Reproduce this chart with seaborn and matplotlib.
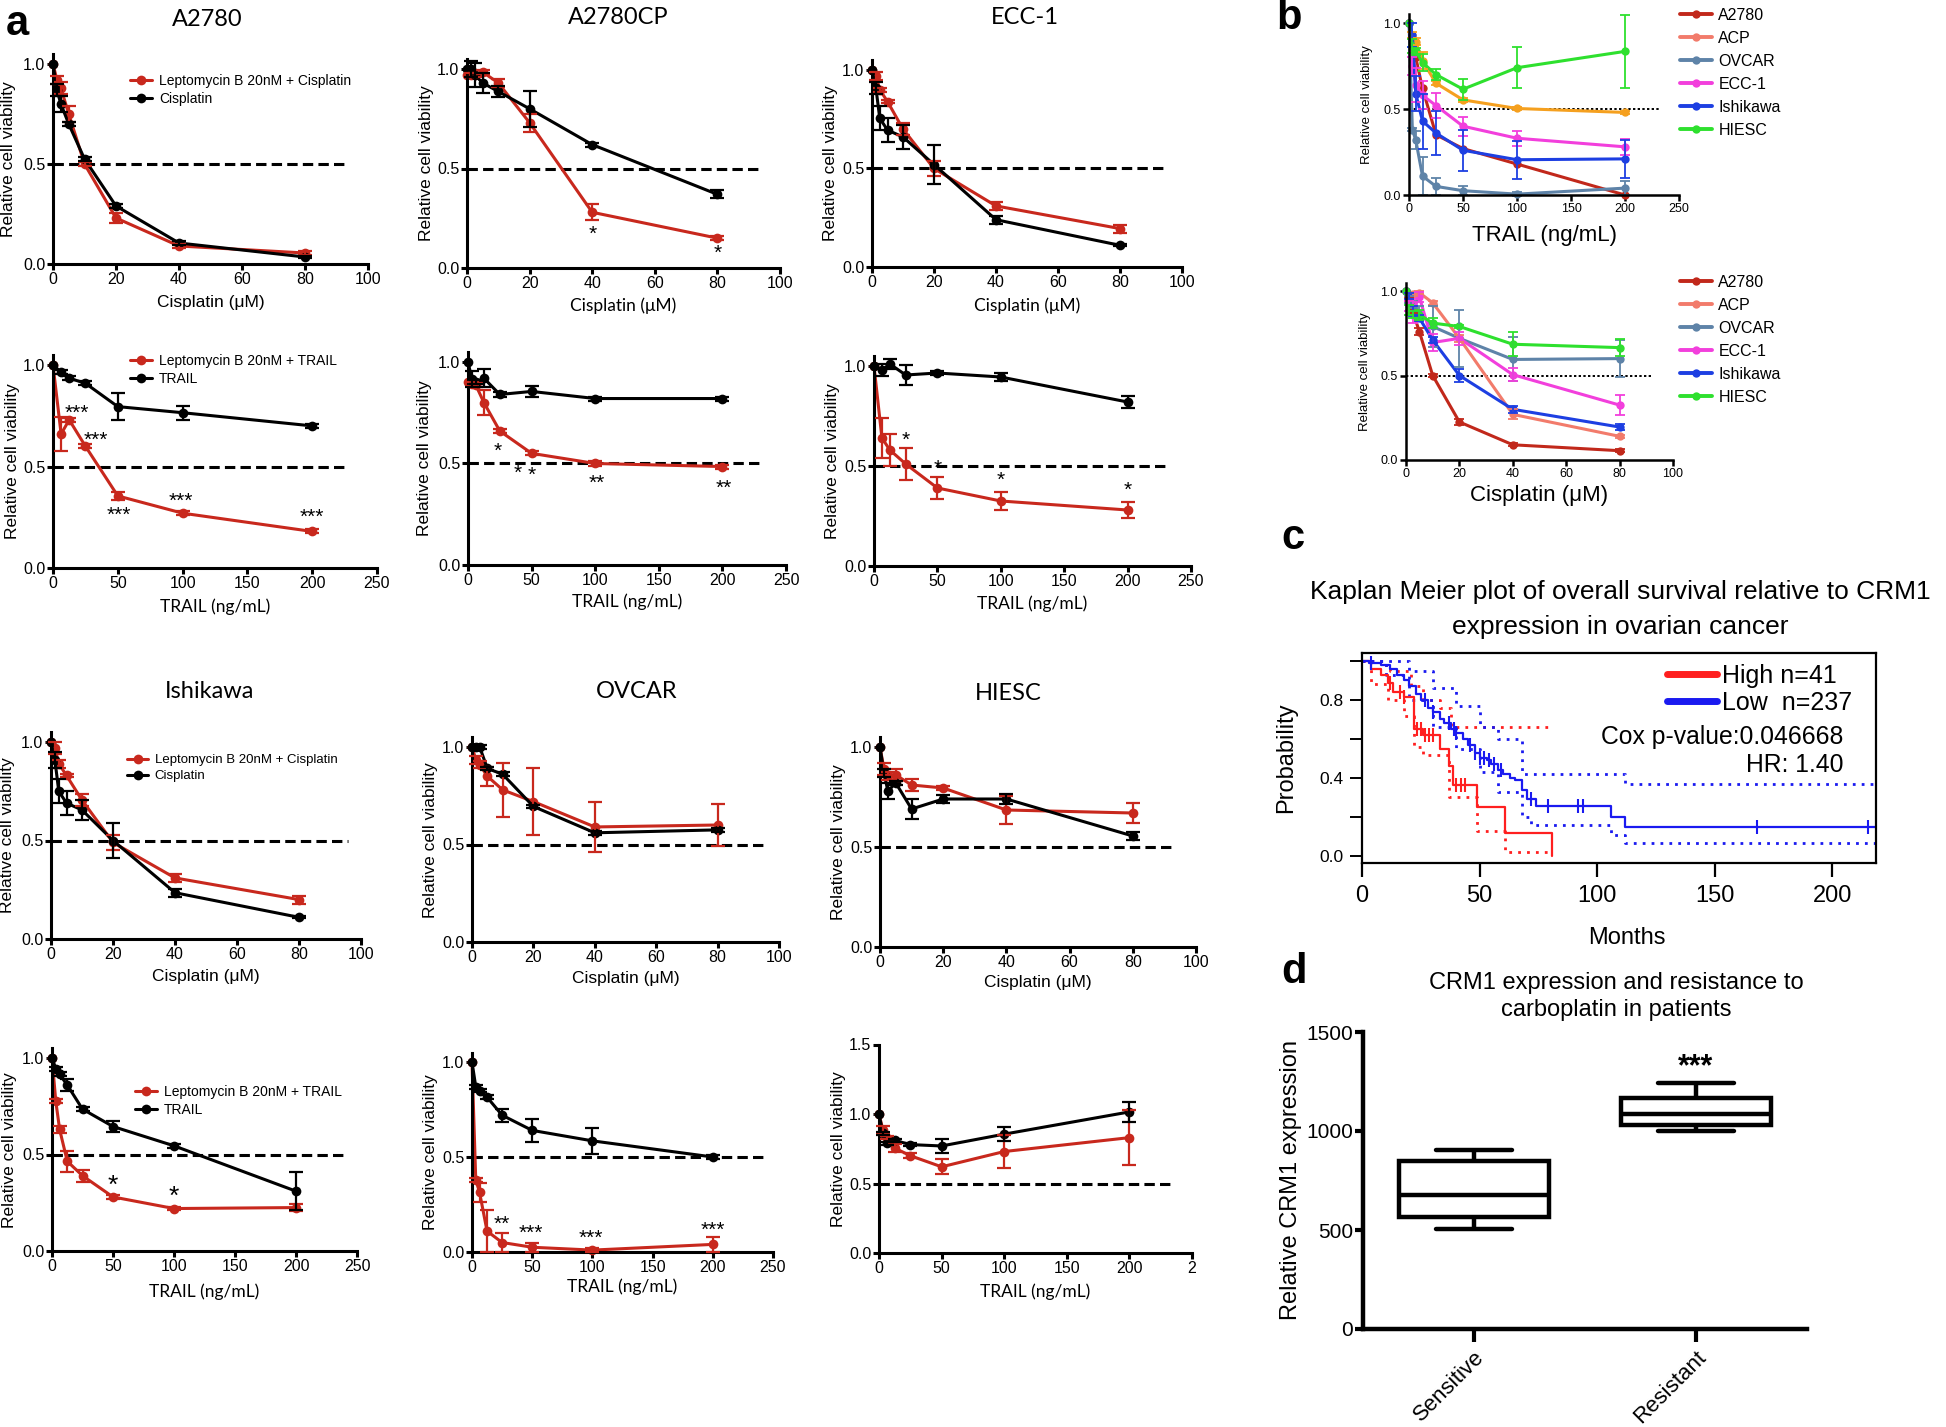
import numpy as np
import pandas as pd
import matplotlib
matplotlib.use("Agg")
import matplotlib.pyplot as plt
import seaborn as sns
from matplotlib.lines import Line2D
from matplotlib import font_manager

sns.set_style("ticks")
plt.rcParams["font.family"] = ["Liberation Sans", "DejaVu Sans"]
plt.rcParams.update({"text.color": "black", "axes.labelcolor": "black",
                     "xtick.color": "black", "ytick.color": "black",
                     "axes.edgecolor": "black"})

try:
    font_manager.findfont("Liberation Sans Narrow", fallback_to_default=False)
    NARROW = ["Liberation Sans Narrow", "Liberation Sans", "DejaVu Sans"]
    HAS_NARROW = True
except ValueError:
    NARROW = ["Liberation Sans", "DejaVu Sans"]
    HAS_NARROW = False
ARIAL = ["Liberation Sans", "DejaVu Sans"]
CALIBRI = ["Lato", "Liberation Sans", "DejaVu Sans"]

# ---------------- data: panel a ----------------
cis_dose = [0, 1.25, 2.5, 5, 10, 20, 40, 80]
trail_dose7 = [0, 6.25, 12.5, 25, 50, 100, 200]
trail_dose8 = [0, 3.125, 6.25, 12.5, 25, 50, 100, 200]

a2780_cis_lmb = [1.0, 0.92, 0.88, 0.75, 0.50, 0.23, 0.09, 0.055]
a2780_cis_lmb_sd = [0, 0.02, 0.03, 0.04, 0.01, 0.025, 0.01, 0.01]
a2780_cis_ctl = [1.0, 0.87, 0.80, 0.70, 0.525, 0.29, 0.105, 0.035]
a2780_cis_ctl_sd = [0, 0.03, 0.04, 0.01, 0.01, 0.01, 0.01, 0.005]

a2780_trail_lmb = [1.0, 0.66, 0.73, 0.60, 0.355, 0.27, 0.18]
a2780_trail_lmb_sd = [0, 0.085, 0.01, 0.01, 0.02, 0.01, 0.01]
a2780_trail_ctl = [1.0, 0.965, 0.935, 0.91, 0.795, 0.765, 0.70]
a2780_trail_ctl_sd = [0, 0.01, 0.01, 0.01, 0.065, 0.035, 0.01]
a2780_trail_stars = [(18, 0.76, "***"), (33, 0.63, "***"), (51, 0.26, "***"),
                     (99, 0.33, "***"), (200, 0.25, "***")]

a2780cp_cis_lmb = [0.97, 0.97, 0.97, 0.985, 0.93, 0.73, 0.28, 0.15]
a2780cp_cis_lmb_sd = [0, 0.01, 0.01, 0.01, 0.02, 0.045, 0.04, 0.01]
a2780cp_cis_ctl = [1.0, 1.0, 0.97, 0.93, 0.887, 0.80, 0.62, 0.37]
a2780cp_cis_ctl_sd = [0, 0.04, 0.06, 0.05, 0.03, 0.09, 0.01, 0.02]
a2780cp_cis_stars = [(40, 0.17, "*"), (80, 0.075, "*")]

a2780cp_trail_lmb = [0.90, 0.89, 0.885, 0.80, 0.66, 0.55, 0.50, 0.485]
a2780cp_trail_lmb_sd = [0, 0.01, 0.01, 0.06, 0.01, 0.01, 0.01, 0.01]
a2780cp_trail_ctl = [1.0, 0.915, 0.90, 0.92, 0.84, 0.855, 0.82, 0.82]
a2780cp_trail_ctl_sd = [0, 0.04, 0.01, 0.045, 0.01, 0.025, 0.01, 0.01]
a2780cp_trail_stars = [(23, 0.56, "*"), (39, 0.45, "*"), (50, 0.44, "*"),
                       (101, 0.40, "**"), (201, 0.38, "**")]

ecc1_cis_lmb = [1.0, 0.97, 0.90, 0.84, 0.70, 0.50, 0.31, 0.195]
ecc1_cis_lmb_sd = [0, 0.02, 0.01, 0.01, 0.03, 0.04, 0.02, 0.02]
ecc1_cis_ctl = [1.0, 0.91, 0.755, 0.695, 0.66, 0.52, 0.24, 0.11]
ecc1_cis_ctl_sd = [0, 0.03, 0.06, 0.06, 0.06, 0.10, 0.02, 0.005]

ecc1_trail_lmb = [1.0, 0.64, 0.58, 0.51, 0.39, 0.325, 0.28]
ecc1_trail_lmb_sd = [0, 0.10, 0.08, 0.08, 0.055, 0.045, 0.04]
ecc1_trail_ctl = [1.0, 0.98, 1.01, 0.955, 0.965, 0.945, 0.82]
ecc1_trail_ctl_sd = [0, 0.03, 0.025, 0.05, 0.01, 0.02, 0.03]
ecc1_trail_stars = [(25, 0.63, "*"), (50, 0.49, "*"), (100, 0.43, "*"), (200, 0.38, "*")]

ishi_cis_lmb = [1.0, 0.97, 0.89, 0.83, 0.705, 0.49, 0.31, 0.20]
ishi_cis_lmb_sd = [0, 0.03, 0.02, 0.01, 0.03, 0.04, 0.02, 0.02]
ishi_cis_ctl = [1.0, 0.91, 0.75, 0.69, 0.655, 0.50, 0.235, 0.11]
ishi_cis_ctl_sd = [0, 0.04, 0.06, 0.06, 0.05, 0.09, 0.02, 0.005]

ovcar_cis_lmb = [1.0, 0.935, 0.91, 0.85, 0.78, 0.72, 0.59, 0.60]
ovcar_cis_lmb_sd = [0, 0.02, 0.02, 0.05, 0.14, 0.17, 0.13, 0.11]
ovcar_cis_ctl = [1.0, 1.0, 1.0, 0.89, 0.86, 0.695, 0.56, 0.575]
ovcar_cis_ctl_sd = [0, 0.01, 0.01, 0.01, 0.01, 0.01, 0.01, 0.01]

hiesc_cis_lmb = [1.0, 0.89, 0.855, 0.86, 0.81, 0.795, 0.685, 0.67]
hiesc_cis_lmb_sd = [0, 0.03, 0.02, 0.03, 0.03, 0.01, 0.07, 0.05]
hiesc_cis_ctl = [1.0, 0.87, 0.78, 0.82, 0.69, 0.74, 0.74, 0.555]
hiesc_cis_ctl_sd = [0, 0.02, 0.04, 0.01, 0.05, 0.02, 0.025, 0.02]

ishi_trail_lmb = [1.0, 0.775, 0.63, 0.465, 0.39, 0.28, 0.22, 0.225]
ishi_trail_lmb_sd = [0, 0.01, 0.02, 0.055, 0.03, 0.01, 0.01, 0.02]
ishi_trail_ctl = [1.0, 0.945, 0.915, 0.86, 0.735, 0.645, 0.545, 0.31]
ishi_trail_ctl_sd = [0, 0.01, 0.01, 0.03, 0.01, 0.03, 0.01, 0.10]
ishi_trail_stars = [(50, 0.34, "*"), (100, 0.28, "*")]

ovcar_trail_lmb = [1.0, 0.38, 0.315, 0.11, 0.05, 0.025, 0.01, 0.04]
ovcar_trail_lmb_sd = [0, 0.01, 0.05, 0.11, 0.05, 0.025, 0.01, 0.04]
ovcar_trail_ctl = [1.0, 0.87, 0.85, 0.815, 0.72, 0.64, 0.585, 0.50]
ovcar_trail_ctl_sd = [0, 0.01, 0.01, 0.01, 0.035, 0.06, 0.07, 0.01]
ovcar_trail_stars = [(25, 0.145, "**"), (49, 0.10, "***"), (99, 0.07, "***"), (200, 0.115, "***")]

hiesc_trail_lmb = [1.0, 0.885, 0.83, 0.755, 0.70, 0.62, 0.73, 0.83]
hiesc_trail_lmb_sd = [0, 0.03, 0.01, 0.03, 0.02, 0.055, 0.12, 0.20]
hiesc_trail_ctl = [1.0, 0.86, 0.79, 0.81, 0.78, 0.77, 0.855, 1.015]
hiesc_trail_ctl_sd = [0, 0.01, 0.01, 0.01, 0.01, 0.05, 0.05, 0.07]

# ---------------- data: panel b ----------------
b_lines = ["A2780", "ACP", "OVCAR", "ECC-1", "Ishikawa", "HIESC"]
b_trail_a2780 = [1.0, 0.90, 0.80, 0.62, 0.35, 0.27, 0.18, 0.0]
b_trail_acp = [1.0, 0.93, 0.89, 0.78, 0.65, 0.553, 0.503, 0.48]
b_trail_ovcar = [1.0, 0.38, 0.32, 0.11, 0.05, 0.025, 0.005, 0.04]
b_trail_ecc1 = [1.0, 0.75, 0.64, 0.58, 0.52, 0.40, 0.33, 0.28]
b_trail_ishi = [1.0, 0.93, 0.59, 0.43, 0.36, 0.26, 0.205, 0.21]
b_trail_hiesc = [1.0, 0.865, 0.835, 0.77, 0.70, 0.615, 0.74, 0.835]
b_trail_acp_sd = [0, 0.02, 0.02, 0.05, 0.01, 0.01, 0.01, 0.01]
b_trail_ovcar_sd = [0, 0.01, 0.05, 0.11, 0.05, 0.025, 0.01, 0.04]
b_trail_ecc1_sd = [0, 0.05, 0.10, 0.08, 0.075, 0.055, 0.045, 0.045]
b_trail_ishi_sd = [0, 0.07, 0.10, 0.16, 0.13, 0.12, 0.11, 0.11]
b_trail_hiesc_sd = [0, 0.04, 0.02, 0.05, 0.03, 0.06, 0.12, 0.21]

b_cis_a2780 = [1.0, 0.95, 0.88, 0.76, 0.50, 0.225, 0.09, 0.055]
b_cis_acp = [1.0, 0.98, 0.98, 0.99, 0.93, 0.72, 0.27, 0.14]
b_cis_ovcar = [1.0, 0.95, 0.92, 0.87, 0.79, 0.72, 0.595, 0.60]
b_cis_ecc1 = [1.0, 0.91, 0.88, 0.965, 0.695, 0.72, 0.505, 0.325]
b_cis_ishi = [1.0, 0.97, 0.88, 0.84, 0.71, 0.50, 0.30, 0.195]
b_cis_hiesc = [1.0, 0.89, 0.86, 0.86, 0.81, 0.79, 0.685, 0.665]
b_cis_a2780_sd = [0, 0.01, 0.01, 0.02, 0.01, 0.02, 0.01, 0.01]
b_cis_acp_sd = [0, 0.01, 0.01, 0.01, 0.01, 0.02, 0.03, 0.01]
b_cis_ovcar_sd = [0, 0.02, 0.02, 0.04, 0.12, 0.17, 0.13, 0.11]
b_cis_ecc1_sd = [0, 0.03, 0.07, 0.03, 0.05, 0.04, 0.04, 0.06]
b_cis_ishi_sd = [0, 0.02, 0.03, 0.02, 0.02, 0.04, 0.02, 0.02]
b_cis_hiesc_sd = [0, 0.03, 0.02, 0.03, 0.03, 0.01, 0.07, 0.05]

# ---------------- data: panel c (Kaplan-Meier) ----------------
high_t = [0, 4, 8, 11, 13, 18, 22, 26, 33, 37, 38.5, 49, 61, 81]
high_s = [1.0, 0.957, 0.93, 0.885, 0.843, 0.817, 0.65, 0.62, 0.547, 0.46, 0.364, 0.25, 0.116, 0.0]
high_cens = [12, 16, 18, 23.5, 25, 27, 28.5, 30, 40, 42, 44]
high_up_t = [0, 8, 12, 21, 26, 33, 38, 81]
high_up = [1.0, 0.98, 0.95, 0.87, 0.80, 0.76, 0.66, 0.66]
high_lo_t = [0, 4, 11, 18, 22, 26, 37, 49, 61, 81]
high_lo = [1.0, 0.88, 0.80, 0.72, 0.56, 0.52, 0.30, 0.13, 0.02, 0.02]

low_t = [0, 3, 8, 12, 15, 18, 20, 23, 25, 28, 30, 33, 35, 38, 40, 43, 45, 48, 50, 53,
         55, 58, 60, 63, 65, 68, 70, 74, 106, 112, 218]
low_s = [1.0, 0.99, 0.98, 0.96, 0.93, 0.90, 0.87, 0.83, 0.80, 0.76, 0.74, 0.70, 0.68, 0.65,
         0.63, 0.60, 0.57, 0.53, 0.50, 0.49, 0.47, 0.44, 0.42, 0.40, 0.39, 0.34, 0.29, 0.256,
         0.20, 0.15, 0.15]
low_cens = [4, 27, 30, 37, 39, 40, 46, 48, 50, 52, 54, 56, 59, 72, 79, 92, 94, 168, 215]
low_up_t = [0, 10, 20, 30, 40, 50, 58, 68, 106, 112, 218]
low_up = [1.0, 1.0, 0.95, 0.86, 0.77, 0.66, 0.60, 0.42, 0.42, 0.37, 0.37]
low_lo_t = [0, 10, 20, 30, 40, 50, 58, 68, 72, 106, 112, 218]
low_lo = [1.0, 0.93, 0.80, 0.66, 0.55, 0.43, 0.33, 0.20, 0.16, 0.11, 0.065, 0.065]

# ---------------- data: panel d (box summary: min, q1, median, q3, max) ----------------
d_groups = ["Sensitive", "Resistant"]
sensitive_expr = [505, 565, 675, 850, 905]
resistant_expr = [1000, 1030, 1085, 1165, 1240]

# ---------------- figure ----------------
W, H = 1946, 1427
fig = plt.figure(figsize=(W / 100, H / 100), dpi=100)
RED = "#c8281d"


def add_ax(left, right, bottom, top):
    return fig.add_axes([left / W, 1 - bottom / H, (right - left) / W, (bottom - top) / H])


def ftext(x, y, s, **kw):
    kw.setdefault("ha", "center")
    kw.setdefault("va", "center")
    return fig.text(x / W, 1 - y / H, s, **kw)


def style_axes(ax, lw=2.2, labelsize=11.5, ticklen=4, pad=1.5):
    sns.despine(ax=ax)
    for s in ("left", "bottom"):
        ax.spines[s].set_linewidth(lw)
        ax.spines[s].set_color("black")
    ax.tick_params(axis="both", direction="out", length=ticklen, width=lw,
                   labelsize=labelsize, pad=pad, color="black")


def viability_panel(box, doses, lmb, lmb_sd, ctl, ctl_sd, xmax, xstep, xlabel, xfont,
                    xlab_y, ylab_x, dash_end, stars=(), star_size=15, ytop=1.05,
                    yticks=(0, 0.5, 1.0), xticklabels=None):
    x0, xr, y0, y1 = box
    top_px = y0 - (y0 - y1) * ytop
    ax = add_ax(x0, xr, y0, top_px)
    n = len(doses)
    df = pd.DataFrame({"dose": list(doses) * 2,
                       "viability": list(lmb) + list(ctl),
                       "group": ["lmb"] * n + ["ctl"] * n})
    ax.plot([0, dash_end], [0.5, 0.5], color="black", lw=2.2, ls=(0, (3.4, 1.7)), zorder=1)
    sns.lineplot(data=df, x="dose", y="viability", hue="group", hue_order=["lmb", "ctl"],
                 palette={"lmb": RED, "ctl": "black"}, marker="o", markersize=7,
                 markeredgewidth=0, linewidth=2.2, errorbar=None, legend=False, ax=ax)
    for vals, sd, c in [(lmb, lmb_sd, RED), (ctl, ctl_sd, "black")]:
        d = np.asarray(doses, float)
        v = np.asarray(vals, float)
        e = np.asarray(sd, float)
        m = e > 0
        eb = ax.errorbar(d[m], v[m], yerr=e[m], fmt="none", ecolor=c, elinewidth=1.6,
                         capsize=5, capthick=1.6, zorder=3)
        for art in eb.lines[1] + eb.lines[2]:
            art.set_clip_on(False)
    for ln in ax.lines:
        ln.set_clip_on(False)
    for x, y, s in stars:
        ax.text(x, y, s, ha="center", va="center", fontsize=star_size)
    ax.set_xlim(0, xmax)
    ax.set_ylim(0, ytop)
    xt = np.arange(0, xmax + 1, xstep)
    ax.set_xticks(xt)
    ax.set_xticklabels(xticklabels if xticklabels else [f"{int(v)}" for v in xt])
    ax.set_yticks(list(yticks))
    ax.set_yticklabels([f"{v:.1f}" for v in yticks])
    style_axes(ax)
    ylab_x = min(ylab_x, x0 - 41)
    ax.set_ylabel("Relative cell viability", fontsize=12.5)
    ax.yaxis.set_label_coords((ylab_x - x0) / (xr - x0), 0.5)
    ax.yaxis.label.set_va("center")
    ax.set_xlabel(xlabel, fontsize=12.5, fontfamily=xfont)
    ax.xaxis.set_label_coords(0.5, -(xlab_y - y0) / (y0 - top_px))
    ax.xaxis.label.set_va("center")
    return ax


def pair_legend(ax, labels, x_px, y_px, fontsize=10):
    handles = [Line2D([], [], color=RED, marker="o", lw=2.2, ms=7, mew=0),
               Line2D([], [], color="black", marker="o", lw=2.2, ms=7, mew=0)]
    ax.legend(handles, labels, loc="upper left", bbox_to_anchor=(x_px / W, 1 - y_px / H),
              bbox_transform=fig.transFigure, frameon=False, fontsize=fontsize,
              handlelength=1.6, handletextpad=0.5, labelspacing=0.3, borderpad=0,
              borderaxespad=0)


CIS_LABEL = "Cisplatin (\u03bcM)"
TRAIL_LABEL = "TRAIL (ng/mL)"
LEG_CIS = ["Leptomycin B 20nM + Cisplatin", "Cisplatin"]
LEG_TRAIL = ["Leptomycin B 20nM + TRAIL", "TRAIL"]

ax = viability_panel((53, 368, 264, 64), cis_dose, a2780_cis_lmb, a2780_cis_lmb_sd,
                     a2780_cis_ctl, a2780_cis_ctl_sd, 100, 20, CIS_LABEL, ARIAL, 302, 9, 93.6)
pair_legend(ax, LEG_CIS, 130, 74)
ax = viability_panel((53, 377, 568, 365), trail_dose7, a2780_trail_lmb, a2780_trail_lmb_sd,
                     a2780_trail_ctl, a2780_trail_ctl_sd, 250, 50, TRAIL_LABEL, CALIBRI, 607, 16,
                     227, stars=a2780_trail_stars)
pair_legend(ax, LEG_TRAIL, 130, 354)
viability_panel((467, 780, 268, 69), cis_dose, a2780cp_cis_lmb, a2780cp_cis_lmb_sd,
                a2780cp_cis_ctl, a2780cp_cis_ctl_sd, 100, 20, CIS_LABEL, CALIBRI, 306, 426, 94,
                stars=a2780cp_cis_stars)
viability_panel((468, 786, 565, 362), trail_dose8, a2780cp_trail_lmb, a2780cp_trail_lmb_sd,
                a2780cp_trail_ctl, a2780cp_trail_ctl_sd, 250, 50, TRAIL_LABEL, CALIBRI, 602, 425,
                231, stars=a2780cp_trail_stars)
viability_panel((872, 1182, 267, 70), cis_dose, ecc1_cis_lmb, ecc1_cis_lmb_sd,
                ecc1_cis_ctl, ecc1_cis_ctl_sd, 100, 20, CIS_LABEL, CALIBRI, 306, 830, 95)
viability_panel((874, 1191, 566, 366), trail_dose7, ecc1_trail_lmb, ecc1_trail_lmb_sd,
                ecc1_trail_ctl, ecc1_trail_ctl_sd, 250, 50, TRAIL_LABEL, CALIBRI, 604, 832, 233,
                stars=ecc1_trail_stars)
ax = viability_panel((51, 361, 939, 742), cis_dose, ishi_cis_lmb, ishi_cis_lmb_sd,
                     ishi_cis_ctl, ishi_cis_ctl_sd, 100, 20, CIS_LABEL, ARIAL, 977, 8, 95.7)
pair_legend(ax, LEG_CIS, 127, 754, fontsize=9.5)
viability_panel((472, 779, 942, 747), cis_dose, ovcar_cis_lmb, ovcar_cis_lmb_sd,
                ovcar_cis_ctl, ovcar_cis_ctl_sd, 100, 20, CIS_LABEL, ARIAL, 978, 431, 95)
viability_panel((880, 1196, 947, 747), cis_dose, hiesc_cis_lmb, hiesc_cis_lmb_sd,
                hiesc_cis_ctl, hiesc_cis_ctl_sd, 100, 20, CIS_LABEL, ARIAL, 983, 839, 93)
ax = viability_panel((52, 357, 1251, 1058), trail_dose8, ishi_trail_lmb, ishi_trail_lmb_sd,
                     ishi_trail_ctl, ishi_trail_ctl_sd, 250, 50, TRAIL_LABEL, CALIBRI, 1292, 10,
                     242, stars=ishi_trail_stars, star_size=19)
pair_legend(ax, LEG_TRAIL, 135, 1085)
viability_panel((472, 773, 1252, 1062), trail_dose8, ovcar_trail_lmb, ovcar_trail_lmb_sd,
                ovcar_trail_ctl, ovcar_trail_ctl_sd, 250, 50, TRAIL_LABEL, CALIBRI, 1287, 431,
                242, stars=ovcar_trail_stars)
viability_panel((879, 1192, 1253, 1114), trail_dose8, hiesc_trail_lmb, hiesc_trail_lmb_sd,
                hiesc_trail_ctl, hiesc_trail_ctl_sd, 250, 50, TRAIL_LABEL, CALIBRI, 1292, 838,
                235, ytop=1.5, yticks=(0, 0.5, 1.0, 1.5),
                xticklabels=["0", "50", "100", "150", "200", "2"])

for name, x, y in [("A2780", 207, 20), ("A2780CP", 618, 18), ("ECC-1", 1025, 18),
                   ("Ishikawa", 210, 692), ("OVCAR", 637, 692), ("HIESC", 1008, 693)]:
    ftext(x, y, name, fontsize=17, fontfamily=CALIBRI)

# ---------------- panel b ----------------
b_palette = {"A2780": "#c1281b", "ACP": "#f27b6b", "OVCAR": "#5e83a8",
             "ECC-1": "#f23fdc", "Ishikawa": "#1d3fe2", "HIESC": "#2ee02e"}


def cell_line_panel(box, doses, series, errs, xmax, xstep, xlabel, xlab_y, ylab_x, dash_end,
                    line_colors, legend_y):
    x0, xr, y0, y1 = box
    top_px = y0 - (y0 - y1) * 1.05
    ax = add_ax(x0, xr, y0, top_px)
    rows = []
    for name in b_lines:
        for d, v in zip(doses, series[name]):
            rows.append((d, v, name))
    df = pd.DataFrame(rows, columns=["dose", "viability", "line"])
    ax.plot([0, dash_end], [0.5, 0.5], color="black", lw=1.4, ls=(0, (1.2, 1.2)), zorder=1)
    sns.lineplot(data=df, x="dose", y="viability", hue="line", hue_order=b_lines,
                 palette=line_colors, marker="o", markersize=6, markeredgewidth=0,
                 linewidth=2.2, errorbar=None, legend=False, ax=ax)
    for name in b_lines:
        if name not in errs:
            continue
        d = np.asarray(doses, float)
        v = np.asarray(series[name], float)
        e = np.asarray(errs[name], float)
        m = e > 0
        eb = ax.errorbar(d[m], v[m], yerr=e[m], fmt="none", ecolor=line_colors[name],
                         elinewidth=1.3, capsize=3.5, capthick=1.3)
        for art in eb.lines[1] + eb.lines[2]:
            art.set_clip_on(False)
    for ln in ax.lines:
        ln.set_clip_on(False)
    ax.set_xlim(0, xmax)
    ax.set_ylim(0, 1.05)
    xt = np.arange(0, xmax + 1, xstep)
    ax.set_xticks(xt)
    ax.set_xticklabels([f"{int(v)}" for v in xt])
    ax.set_yticks([0, 0.5, 1.0])
    ax.set_yticklabels(["0.0", "0.5", "1.0"])
    style_axes(ax, lw=1.8, labelsize=9, ticklen=4, pad=2)
    ax.set_ylabel("Relative cell viability", fontsize=9.5)
    ax.yaxis.set_label_coords((ylab_x - x0) / (xr - x0), 0.5)
    ax.yaxis.label.set_va("center")
    ax.set_xlabel(xlabel, fontsize=19 if HAS_NARROW else 16, fontfamily=NARROW)
    ax.xaxis.set_label_coords(0.5, -(xlab_y - y0) / (y0 - top_px))
    ax.xaxis.label.set_va("center")
    handles = [Line2D([], [], color=b_palette[n], marker="o", lw=2.8, ms=6, mew=0)
               for n in b_lines]
    ax.legend(handles, b_lines, loc="upper left", bbox_to_anchor=(1680 / W, 1 - legend_y / H),
              bbox_transform=fig.transFigure, frameon=False, fontsize=11.5,
              handlelength=2.0, handletextpad=0.4, labelspacing=0.5, borderpad=0,
              borderaxespad=0)
    return ax


top_colors = dict(b_palette)
top_colors["ACP"] = "#f5a01f"
cell_line_panel((1409, 1679, 195, 23), trail_dose8,
                {"A2780": b_trail_a2780, "ACP": b_trail_acp, "OVCAR": b_trail_ovcar,
                 "ECC-1": b_trail_ecc1, "Ishikawa": b_trail_ishi, "HIESC": b_trail_hiesc},
                {"ACP": b_trail_acp_sd, "OVCAR": b_trail_ovcar_sd, "ECC-1": b_trail_ecc1_sd,
                 "Ishikawa": b_trail_ishi_sd, "HIESC": b_trail_hiesc_sd},
                250, 50, "TRAIL (ng/mL)", 235, 1367, 232, top_colors, 8)
cell_line_panel((1406, 1673, 460, 291), cis_dose,
                {"A2780": b_cis_a2780, "ACP": b_cis_acp, "OVCAR": b_cis_ovcar,
                 "ECC-1": b_cis_ecc1, "Ishikawa": b_cis_ishi, "HIESC": b_cis_hiesc},
                {"A2780": b_cis_a2780_sd, "ACP": b_cis_acp_sd, "OVCAR": b_cis_ovcar_sd,
                 "ECC-1": b_cis_ecc1_sd, "Ishikawa": b_cis_ishi_sd, "HIESC": b_cis_hiesc_sd},
                100, 20, "Cisplatin (\u03bcM)", 495, 1365, 92.6, b_palette, 275)

# ---------------- panel c ----------------
KM_RED = "#ff1f1f"
KM_BLUE = "#1a1af0"
axc = add_ax(1362, 1876, 863, 653)
axc.step(high_up_t, high_up, where="post", color=KM_RED, lw=2, ls=(0, (1, 2.2)))
axc.step(high_lo_t, high_lo, where="post", color=KM_RED, lw=2, ls=(0, (1, 2.2)))
axc.step(low_up_t, low_up, where="post", color=KM_BLUE, lw=2, ls=(0, (1, 2.2)))
axc.step(low_lo_t, low_lo, where="post", color=KM_BLUE, lw=2, ls=(0, (1, 2.2)))
axc.step(high_t, high_s, where="post", color=KM_RED, lw=1.6)
axc.step(low_t, low_s, where="post", color=KM_BLUE, lw=1.6)
for t, s, cens, c in [(high_t, high_s, high_cens, KM_RED), (low_t, low_s, low_cens, KM_BLUE)]:
    idx = np.searchsorted(t, cens, side="right") - 1
    axc.plot(cens, np.asarray(s)[idx], ls="none", marker="|", ms=10, mew=1.5, color=c)
axc.set_xlim(0, 218.6)
axc.set_ylim(-0.036, 1.041)
axc.set_xticks([0, 50, 100, 150, 200])
axc.set_yticks([0, 0.2, 0.4, 0.6, 0.8, 1.0])
axc.set_yticklabels(["0.0", "", "0.4", "", "0.8", ""])
for s in axc.spines.values():
    s.set_linewidth(1.6)
    s.set_color("black")
axc.tick_params(axis="x", direction="out", length=10, width=1.6, labelsize=17, pad=6)
axc.tick_params(axis="y", direction="out", length=9, width=1.4, labelsize=12.5, pad=4)
axc.set_xlabel("Months", fontsize=17)
axc.xaxis.set_label_coords((1627 - 1362) / 514, -(938 - 863) / 210)
axc.xaxis.label.set_va("center")
axc.set_ylabel("Probability", fontsize=17)
axc.yaxis.set_label_coords((1286 - 1362) / 514, 0.5)
axc.yaxis.label.set_va("center")
km_handles = [Line2D([], [], color=KM_RED, lw=5), Line2D([], [], color=KM_BLUE, lw=5)]
axc.legend(km_handles, ["High n=41", "Low  n=237"], loc="upper left",
           bbox_to_anchor=(1667 / W, 1 - 664 / H), bbox_transform=fig.transFigure,
           frameon=False, fontsize=18, handlelength=2.0, handletextpad=0.2,
           labelspacing=0.12, borderpad=0, borderaxespad=0)
ftext(1843, 737, "Cox p-value:0.046668", ha="right", fontsize=17.8)
ftext(1843, 765, "HR: 1.40", ha="right", fontsize=17.8)
ftext(1620, 592, "Kaplan Meier plot of overall survival relative to CRM1", fontsize=19)
ftext(1620, 627, "expression in ovarian cancer", fontsize=19)

# ---------------- panel d ----------------
axd = add_ax(1363, 1807, 1329, 1032)
df_d = pd.DataFrame({"group": [d_groups[0]] * len(sensitive_expr) + [d_groups[1]] * len(resistant_expr),
                     "expr": sensitive_expr + resistant_expr})
sns.boxplot(data=df_d, x="group", y="expr", order=d_groups, whis=(0, 100), width=0.676,
            color="white", linecolor="black", linewidth=3.2, ax=axd)
axd.set_xlim(-0.5, 1.5)
axd.set_ylim(0, 1500)
axd.set_yticks([0, 500, 1000, 1500])
sns.despine(ax=axd)
for s in ("left", "bottom"):
    axd.spines[s].set_linewidth(3.2)
    axd.spines[s].set_color("black")
    axd.spines[s].set_clip_on(False)
axd.tick_params(axis="y", direction="out", length=6, width=3, labelsize=15, pad=1)
axd.tick_params(axis="x", direction="out", length=9, width=3, labelsize=16, pad=4)
plt.setp(axd.get_xticklabels(), rotation=45, ha="right", rotation_mode="anchor")
axd.set_xlabel("")
axd.set_ylabel("Relative CRM1 expression", fontsize=17)
axd.yaxis.set_label_coords((1291 - 1363) / 444, 0.5)
axd.yaxis.label.set_va("center")
axd.text(1, 1323, "***", ha="center", va="center", fontsize=22, fontweight="bold")
ftext(1616, 983, "CRM1 expression and resistance to", fontsize=17)
ftext(1616, 1010, "carboplatin in patients", fontsize=17)

# ---------------- panel letters ----------------
for letter, x, y in [("a", 17, 24), ("b", 1289, 18), ("c", 1293, 538), ("d", 1294, 972)]:
    ftext(x, y, letter, fontsize=30, fontweight="bold")

fig.savefig("out.png", dpi=100)
